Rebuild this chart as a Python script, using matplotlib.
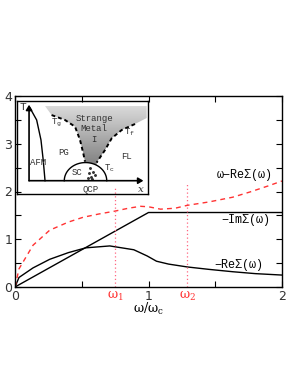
import numpy as np
import matplotlib
matplotlib.use("Agg")
import matplotlib.pyplot as plt
from matplotlib.patches import Polygon, FancyArrowPatch

# ---------------- data (main panel) ----------------
w_im = [0.0, 1.0, 2.0]
im_sigma = [0.0, 1.56, 1.56]

w_re = [0.0, 0.03, 0.135, 0.26, 0.4, 0.53, 0.71, 0.89, 0.99, 1.06, 1.15, 1.29, 1.45, 1.63, 1.8, 2.0]
re_sigma = [0.0, 0.2, 0.40, 0.58, 0.72, 0.82, 0.86, 0.78, 0.65, 0.54, 0.48, 0.42, 0.37, 0.32, 0.28, 0.25]

w_qp = [0.0, 0.03, 0.135, 0.26, 0.4, 0.51, 0.63, 0.75, 0.85, 0.94, 1.0, 1.09, 1.2, 1.29, 1.45, 1.63, 1.76, 1.9, 2.0]
qp = [0.0, 0.38, 0.875, 1.19, 1.36, 1.46, 1.53, 1.59, 1.65, 1.69, 1.68, 1.63, 1.65, 1.71, 1.78, 1.88, 1.99, 2.12, 2.22]

omega1, omega2 = 0.75, 1.29
omega1_top, omega2_top = 2.12, 2.2

# ---------------- data (inset schematic, normalized 0..1) ----------------
tg_u = [0.264, 0.366, 0.443, 0.481, 0.506, 0.519]
tg_v = [0.849, 0.796, 0.724, 0.581, 0.438, 0.348]
tf_u = [0.901, 0.799, 0.723, 0.672, 0.621, 0.608]
tf_v = [0.753, 0.688, 0.599, 0.473, 0.366, 0.337]
afm_u = [0.099, 0.150, 0.183, 0.200, 0.214]
afm_v = [0.925, 0.796, 0.581, 0.366, 0.143]
dome_c, dome_hw, dome_h = 0.523, 0.162, 0.195
dots_u = [0.557, 0.580, 0.550, 0.595, 0.565, 0.542, 0.575]
dots_v = [0.280, 0.237, 0.226, 0.204, 0.183, 0.172, 0.160]

mono = ["Liberation Mono", "DejaVu Sans Mono"]

fig = plt.figure(figsize=(2.91, 3.76), dpi=100)
ax = fig.add_axes([15/291, 1-287/376, 267/291, 191/376])

ax.plot(w_im, im_sigma, color="black", lw=1.0)
ax.plot(w_re, re_sigma, color="black", lw=1.0)
ax.plot(w_qp, qp, color="#ff3333", lw=1.0, ls=(0, (3.5, 3)))
ax.plot([omega1, omega1], [0, omega1_top], color="#ff6680", lw=0.9, ls=(0, (1, 2)))
ax.plot([omega2, omega2], [0, omega2_top], color="#ff6680", lw=0.9, ls=(0, (1, 2)))

ax.set_xlim(0, 2)
ax.set_ylim(0, 4)
ax.set_xticks([0, 1, 2])
ax.set_xticks([0.5, 1.5], minor=True)
ax.set_yticks([0, 1, 2, 3, 4])
ax.set_yticks([0.5, 1.5, 2.5, 3.5], minor=True)
ax.tick_params(which="both", direction="in", top=True, right=True, labelsize=9,
               labelcolor="#333333", pad=2)
ax.tick_params(which="major", length=4, width=0.8)
ax.tick_params(which="minor", length=4, width=0.8)
for s in ax.spines.values():
    s.set_linewidth(1.0)

ax.text(1.93, 2.34, "ω−ReΣ(ω)", family=mono, fontsize=8.5, ha="right", va="center")
ax.text(1.91, 1.40, "−ImΣ(ω)", family=mono, fontsize=8.5, ha="right", va="center")
ax.text(1.86, 0.46, "−ReΣ(ω)", family=mono, fontsize=8.5, ha="right", va="center")

ax.text(omega1, -0.2, r"$\mathregular{\omega_1}$", color="#ff3333", fontsize=9, ha="center", va="center",
        family=["DejaVu Serif"])
ax.text(omega2, -0.2, r"$\mathregular{\omega_2}$", color="#ff3333", fontsize=9, ha="center", va="center",
        family=["DejaVu Serif"])
ax.text(1.0, -0.47, r"$\mathregular{\omega/\omega_c}$", fontsize=9, ha="center", va="center",
        family=["DejaVu Serif"])

# ---------------- inset ----------------
ins = fig.add_axes([17/291, 1-194/376, 131/291, 93/376])
ins.set_xlim(0, 1)
ins.set_ylim(0, 1)
ins.set_facecolor("none")
ins.set_xticks([])
ins.set_yticks([])
for s in ins.spines.values():
    s.set_linewidth(1.0)

# gray strange-metal funnel
dome_top_u = np.linspace(tg_u[-1], tf_u[-1], 10)
dome_top_v = 0.143 + dome_h*np.sqrt(np.clip(1-((dome_top_u-dome_c)/dome_hw)**2, 0, 1))
poly_u = [0.214, 0.99, 0.99] + tf_u + list(dome_top_u[::-1]) + tg_u[::-1]
poly_v = [0.946, 0.946, 0.817] + tf_v + list(dome_top_v[::-1]) + tg_v[::-1]
funnel = Polygon(np.column_stack([poly_u, poly_v]), closed=True, facecolor="none", edgecolor="none")
ins.add_patch(funnel)
grad = np.linspace(0.5, 0.86, 100).reshape(-1, 1)
im = ins.imshow(grad, cmap="gray", vmin=0, vmax=1, origin="lower", aspect="auto",
                extent=[0, 1, 0.3, 0.95], zorder=1)
im.set_clip_path(funnel)

ins.plot(tg_u, tg_v, color="black", lw=1.4, ls=(0, (2, 1.5)), zorder=3)
ins.plot(tf_u, tf_v, color="black", lw=1.4, ls=(0, (2, 1.5)), zorder=3)
ins.plot(afm_u, afm_v, color="black", lw=1.0, zorder=3)

t = np.linspace(0, np.pi, 60)
ins.plot(dome_c + dome_hw*np.cos(t), 0.143 + dome_h*np.sin(t), color="black", lw=1.0, zorder=3)
ins.scatter(dots_u, dots_v, s=1.2, color="#333333", zorder=3)

ins.add_patch(FancyArrowPatch((0.092, 0.143), (0.092, 0.96), arrowstyle="-|>,head_length=3,head_width=1.8",
                              color="black", lw=1.2, zorder=4, shrinkA=0, shrinkB=0))
ins.add_patch(FancyArrowPatch((0.092, 0.143), (0.965, 0.143), arrowstyle="-|>,head_length=3,head_width=1.8",
                              color="black", lw=1.2, zorder=4, shrinkA=0, shrinkB=0))

ic = "#333333"
fs = 6.5
ins.text(0.045, 0.94, "T", family=mono, fontsize=fs+1.5, color=ic, ha="center", va="center")
ins.text(0.945, 0.045, "x", family=["DejaVu Serif"], style="italic", fontsize=fs+1, color=ic,
         ha="center", va="center")
ins.text(0.303, 0.76, r"T$_\mathregular{g}$", family=mono, fontsize=fs, color=ic, ha="center", va="center")
ins.text(0.588, 0.815, "Strange", family=mono, fontsize=fs, color=ic, ha="center", va="center")
ins.text(0.588, 0.70, "Metal", family=mono, fontsize=fs, color=ic, ha="center", va="center")
ins.text(0.588, 0.59, "I", family=mono, fontsize=fs, color=ic, ha="center", va="center")
ins.text(0.855, 0.665, r"T$_\mathregular{f}$", family=mono, fontsize=fs, color=ic, ha="center", va="center")
ins.text(0.353, 0.45, "PG", family=mono, fontsize=fs, color=ic, ha="center", va="center")
ins.text(0.838, 0.40, "FL", family=mono, fontsize=fs, color=ic, ha="center", va="center")
ins.text(0.163, 0.34, "AFM", family=mono, fontsize=fs, color=ic, ha="center", va="center")
ins.text(0.455, 0.23, "SC", family=mono, fontsize=fs, color=ic, ha="center", va="center")
ins.text(0.705, 0.28, r"T$_\mathregular{c}$", family=mono, fontsize=fs, color=ic, ha="center", va="center")
ins.text(0.565, 0.05, "QCP", family=mono, fontsize=fs, color=ic, ha="center", va="center")

fig.savefig("out.png", dpi=100)
